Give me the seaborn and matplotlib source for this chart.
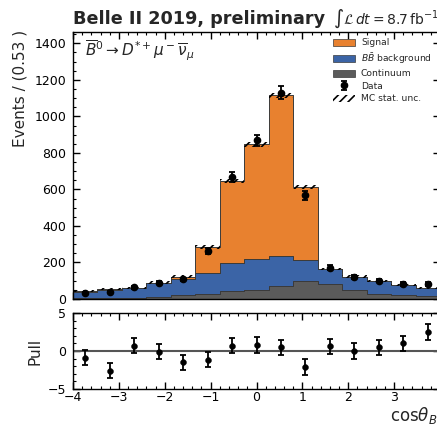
import numpy as np
import pandas as pd
import matplotlib
matplotlib.use("Agg")
import matplotlib.pyplot as plt
import seaborn as sns
from matplotlib.patches import Patch
from matplotlib.ticker import MultipleLocator, FuncFormatter

# ---------------- data ----------------
n_bins = 15
x_range = (-4, 4)
bin_edges = np.linspace(x_range[0], x_range[1], n_bins + 1)
bin_centers = 0.5 * (bin_edges[:-1] + bin_edges[1:])
continuum = [4, 5, 7, 10, 22, 30, 46, 50, 73, 100, 80, 47, 30, 20, 16]
bb_background = [36, 45, 53, 76, 88, 115, 149, 170, 161, 116, 83, 76, 67, 56, 44]
signal = [2, 3, 1, 3, 12, 139, 451, 628, 881, 397, 2, 0, 0, 0, 0]
data_counts = [34, 37, 65, 90, 107, 262, 668, 869, 1130, 567, 171, 123, 101, 83, 83]
mc_stat_unc = [6, 6, 6, 7, 7, 10, 12, 13, 14, 12, 7, 6, 6, 5, 5]
pulls = [-0.9, -2.6, 0.7, -0.1, -1.5, -1.15, 0.7, 0.8, 0.5, -2.1, 0.6, 0.0, 0.5, 1.0, 2.5]
pull_err = [1.0] * 15

colors = {"Signal": "#E8812F", "BB": "#3B64A6", "Continuum": "#5B5B5B"}

# ---------------- figure ----------------
sns.set_style("ticks")
plt.rcParams["font.family"] = ["DejaVu Sans"]
plt.rcParams["mathtext.fontset"] = "dejavusans"
plt.rcParams["hatch.linewidth"] = 1.2

W, H = 437, 428
fig = plt.figure(figsize=(W / 100, H / 100), dpi=100)
x0, x1 = 73 / W, 440 / W
ax = fig.add_axes([x0, 1 - 299 / H, x1 - x0, (299 - 32) / H])
axp = fig.add_axes([x0, 1 - 389 / H, x1 - x0, (389 - 313) / H])

df = pd.DataFrame({
    "x": np.tile(bin_centers, 3),
    "w": np.concatenate([signal, bb_background, continuum]).astype(float),
    "comp": ["Signal"] * 15 + ["BB"] * 15 + ["Continuum"] * 15,
})
sns.histplot(data=df, x="x", weights="w", hue="comp",
             hue_order=["Signal", "BB", "Continuum"], bins=n_bins,
             binrange=x_range,
             multiple="stack", element="step", fill=True, alpha=1,
             palette=colors, edgecolor="#3a3a3a", linewidth=0.7,
             legend=False, ax=ax)

total = np.array(signal) + np.array(bb_background) + np.array(continuum)
unc = np.array(mc_stat_unc)
ax.bar(bin_centers, 2 * unc, bottom=total - unc,
       width=np.diff(bin_edges), fill=False, hatch="////",
       linewidth=0, edgecolor="black", zorder=3)

derr = np.sqrt(np.array(data_counts))
data_h = ax.errorbar(bin_centers, data_counts, yerr=derr, fmt="o",
                     color="black", markersize=4.5, capsize=2.5,
                     elinewidth=1.3, capthick=1.3, label="Data", zorder=4)

ax.set_xlim(-4, 4)
ax.set_ylim(0, 1462)
ax.set_xticklabels([])
ax.set_xlabel("")
ax.set_ylabel("Events / (0.53 )", fontsize=11, loc="top")
ax.yaxis.set_label_coords(-0.125, 1.008)

ax.xaxis.set_major_locator(MultipleLocator(1))
ax.xaxis.set_minor_locator(MultipleLocator(0.2))
ax.yaxis.set_major_locator(MultipleLocator(200))
ax.yaxis.set_minor_locator(MultipleLocator(50))

for a in (ax, axp):
    a.tick_params(which="both", direction="in", top=True, right=True,
                  labelsize=9, colors="black")
    a.tick_params(axis="y", pad=5)
    a.tick_params(axis="x", pad=1.5)
    a.tick_params(which="major", length=5, width=1)
    a.tick_params(which="minor", length=2.5, width=0.8)
    for s in a.spines.values():
        s.set_linewidth(1)
        s.set_color("black")

ax.text(0.033, 0.975,
        r"$\overline{B}^0 \rightarrow D^{*+}\mu^-\overline{\nu}_\mu$",
        transform=ax.transAxes, ha="left", va="top", fontsize=11)

handles = [Patch(facecolor=colors["Signal"], edgecolor="#3a3a3a", linewidth=0.5),
           Patch(facecolor=colors["BB"], edgecolor="#3a3a3a", linewidth=0.5),
           Patch(facecolor=colors["Continuum"], edgecolor="#3a3a3a", linewidth=0.5),
           data_h,
           Patch(fill=False, hatch="////", linewidth=0, edgecolor="black")]
labels = ["Signal", r"$B\bar{B}$ background", "Continuum", "Data", "MC stat. unc."]
ax.legend(handles, labels, loc="upper right", frameon=False, fontsize=6.6,
          handlelength=2.3, handleheight=0.8, labelspacing=0.38,
          handletextpad=0.7, borderaxespad=0.3, bbox_to_anchor=(0.995, 1.0))

fig.text(73 / W, 1 - 24 / H, "Belle II 2019, preliminary", fontsize=12.7,
         fontweight="bold", ha="left", va="baseline")
fig.text(333 / W, 1 - 24 / H, r"$\int\mathcal{L}\,dt = 8.7\,\mathrm{fb}^{-1}$",
         fontsize=10, ha="left", va="baseline")

# ---------------- pull panel ----------------
axp.axhline(0, color="#555555", linewidth=1.5, zorder=1)
sns.scatterplot(x=bin_centers, y=pulls, color="black", s=18, ax=axp,
                zorder=3, edgecolor="black")
axp.errorbar(bin_centers, pulls, yerr=pull_err, fmt="none", ecolor="black",
             capsize=2.5, elinewidth=1.3, capthick=1.3, zorder=3)
axp.set_xlim(-4, 4)
axp.set_ylim(-5, 5)
axp.xaxis.set_major_locator(MultipleLocator(1))
axp.xaxis.set_minor_locator(MultipleLocator(0.2))
axp.xaxis.set_major_formatter(FuncFormatter(
    lambda v, p: "" if v > 3.5 else f"{v:.0f}".replace("-", "\u2212")))
axp.yaxis.set_major_locator(MultipleLocator(5))
axp.yaxis.set_minor_locator(MultipleLocator(1))
axp.set_ylabel("Pull", fontsize=11)
axp.yaxis.set_label_coords(-0.082, 0.5)
axp.set_xlabel("")
fig.text(390 / W, 1 - 421 / H, r"$\mathrm{cos}\theta_{BY}$", fontsize=12,
         ha="left", va="baseline")

fig.savefig("out.png", dpi=100)
